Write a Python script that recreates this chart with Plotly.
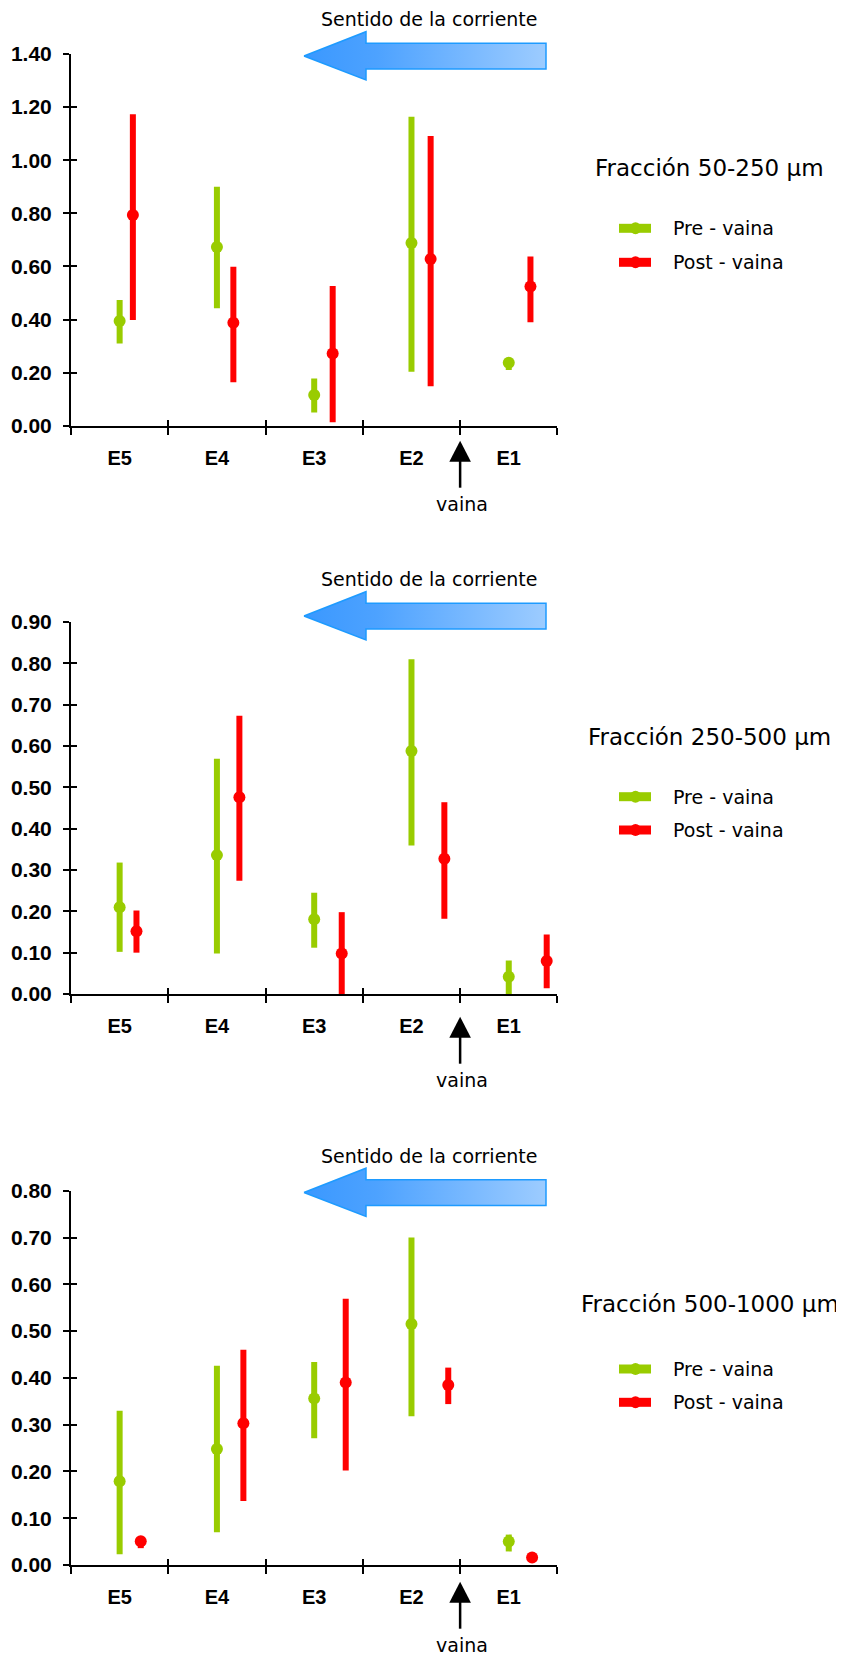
import plotly.graph_objects as go

# ---------------- data ----------------
categories = ["E5", "E4", "E3", "E2", "E1"]
panel_titles = ["Fracción 50-250 µm", "Fracción 250-500 µm", "Fracción 500-1000 µm"]
series_names = ["Pre - vaina", "Post - vaina"]
current_label = "Sentido de la corriente"
vaina_label = "vaina"

# Fracción 50-250 µm
pre_1 = [0.394, 0.673, 0.116, 0.688, 0.237]
pre_1_hi = [0.473, 0.900, 0.178, 1.164, 0.250]
pre_1_lo = [0.310, 0.442, 0.050, 0.203, 0.210]
post_1 = [0.794, 0.388, 0.272, 0.628, 0.524]
post_1_hi = [1.173, 0.599, 0.526, 1.091, 0.637]
post_1_lo = [0.398, 0.164, 0.013, 0.149, 0.390]

# Fracción 250-500 µm
pre_2 = [0.210, 0.336, 0.181, 0.588, 0.042]
pre_2_hi = [0.318, 0.569, 0.245, 0.810, 0.081]
pre_2_lo = [0.102, 0.098, 0.112, 0.359, -0.009]
post_2 = [0.152, 0.476, 0.098, 0.327, 0.080]
post_2_hi = [0.202, 0.673, 0.198, 0.464, 0.144]
post_2_lo = [0.100, 0.274, -0.005, 0.182, 0.014]

# Fracción 500-1000 µm
pre_3 = [0.179, 0.248, 0.356, 0.515, 0.050]
pre_3_hi = [0.330, 0.426, 0.434, 0.700, 0.065]
pre_3_lo = [0.023, 0.070, 0.271, 0.318, 0.029]
post_3 = [0.051, 0.303, 0.390, 0.385, 0.016]
post_3_hi = [0.059, 0.460, 0.569, 0.422, 0.016]
post_3_lo = [0.036, 0.137, 0.202, 0.344, 0.016]

y_max = [1.4, 0.9, 0.8]
y_step = [0.2, 0.1, 0.1]

# ---------------- layout / style ----------------
W, H = 844, 1657
PAGE = 8  # default body margin of the html page
GREEN = "#99CC00"
RED = "#FF0000"
TICK_FONT = dict(family="Liberation Sans, Arial, sans-serif", size=21, color="black", weight="bold")
CAT_FONT = dict(family="Liberation Sans, Arial, sans-serif", size=20, color="black", weight="bold")
TEXT_FONT = "DejaVu Sans, Verdana, sans-serif"

X_LEFT, X_RIGHT = 71.0, 557.4           # screen-pixel extent of the x axes
panel_px = [(54.0, 425.7), (622.0, 994.0), (1190.8, 1565.0)]  # (top, bottom) screen px
post_offset = [
    [0.136, 0.169, 0.190, 0.197, 0.223],
    [0.173, 0.231, 0.283, 0.338, 0.390],
    [0.217, 0.272, 0.324, 0.378, 0.240],
]
current_tip_y = [56.0, 616.0, 1192.5]
vaina_tip_y = [440.7, 1016.7, 1581.7]
legend_title_y = [167.5, 736.7, 1304.2]
legend_title_x = [709.0, 709.0, 710.0]
legend_item_y = [(228.3, 262.3), (796.7, 830.0), (1369.0, 1402.3)]

series = [
    (pre_1, pre_1_hi, pre_1_lo, post_1, post_1_hi, post_1_lo),
    (pre_2, pre_2_hi, pre_2_lo, post_2, post_2_hi, post_2_lo),
    (pre_3, pre_3_hi, pre_3_lo, post_3, post_3_hi, post_3_lo),
]


def px_x(v):
    return (v - PAGE) / W


def px_y(v):
    return 1 - (v - PAGE) / H


fig = go.Figure()
layout = dict(
    width=W, height=H, margin=dict(l=0, r=0, t=0, b=0, pad=0, autoexpand=False),
    paper_bgcolor="white", plot_bgcolor="rgba(0,0,0,0)", showlegend=False,
)

xdom = [px_x(X_LEFT), px_x(X_RIGHT)]
boundaries = [i - 0.5 for i in range(len(categories) + 1)]
centers = list(range(len(categories)))

for k in range(3):
    pre, pre_hi, pre_lo, post, post_hi, post_lo = series[k]
    top, bottom = panel_px[k]
    ydom = [px_y(bottom), px_y(top)]
    n = k + 1
    xs = "" if n == 1 else str(n)
    ov = str(n + 4)
    xa, ya = "x" + xs, "y" + xs

    yticks = [round(i * y_step[k], 2) for i in range(int(round(y_max[k] / y_step[k])) + 1)]

    fig.add_trace(go.Scatter(
        x=centers, y=pre, mode="markers", xaxis=xa, yaxis=ya, cliponaxis=False,
        marker=dict(color=GREEN, size=12),
        error_y=dict(type="data", symmetric=False,
                     array=[h - v for h, v in zip(pre_hi, pre)],
                     arrayminus=[v - l for v, l in zip(pre, pre_lo)],
                     color=GREEN, thickness=6, width=0),
        name=series_names[0]))
    fig.add_trace(go.Scatter(
        x=[c + o for c, o in zip(centers, post_offset[k])], y=post, mode="markers",
        xaxis=xa, yaxis=ya, cliponaxis=False,
        marker=dict(color=RED, size=12),
        error_y=dict(type="data", symmetric=False,
                     array=[h - v for h, v in zip(post_hi, post)],
                     arrayminus=[v - l for v, l in zip(post, post_lo)],
                     color=RED, thickness=6, width=0),
        name=series_names[1]))
    # dummy trace for overlay axes (inside ticks)
    fig.add_trace(go.Scatter(x=[None], y=[None], xaxis="x" + ov, yaxis="y" + ov,
                             hoverinfo="skip", showlegend=False))

    layout["xaxis" + xs] = dict(
        domain=xdom, anchor=ya, range=[-0.5, len(categories) - 0.5], automargin=False,
        tickmode="array", tickvals=centers, ticktext=categories, ticks="",
        tickfont=CAT_FONT, ticklabelstandoff=13,
        showline=True, linecolor="black", linewidth=2,
        showgrid=False, zeroline=False,
        minor=dict(tickmode="array", tickvals=boundaries, ticks="outside",
                   ticklen=7, tickwidth=2, tickcolor="black", showgrid=False),
    )
    layout["yaxis" + xs] = dict(
        domain=ydom, anchor=xa, range=[0, y_max[k]], automargin=False,
        tickmode="array", tickvals=yticks, tickformat=".2f",
        ticks="outside", ticklen=6, tickwidth=2, tickcolor="black",
        tickfont=TICK_FONT, ticklabelstandoff=7,
        showline=True, linecolor="black", linewidth=2,
        showgrid=False, zeroline=False,
    )
    layout["xaxis" + ov] = dict(
        overlaying=xa, anchor="y" + ov, range=[-0.5, len(categories) - 0.5], automargin=False,
        tickmode="array", tickvals=boundaries, ticks="inside", ticklen=6,
        tickwidth=2, tickcolor="black", showticklabels=False,
        showline=False, showgrid=False, zeroline=False,
    )
    layout["yaxis" + ov] = dict(
        overlaying=ya, anchor="x" + ov, range=[0, y_max[k]], automargin=False,
        tickmode="array", tickvals=yticks, ticks="inside", ticklen=6,
        tickwidth=2, tickcolor="black", showticklabels=False,
        showline=False, showgrid=False, zeroline=False,
    )

# screen-pixel axes for decorations
layout["xaxis4"] = dict(domain=[0, 1], anchor="y4", range=[PAGE, W + PAGE], visible=False,
                        fixedrange=True, automargin=False)
layout["yaxis4"] = dict(domain=[0, 1], anchor="x4", range=[H + PAGE, PAGE], visible=False,
                        fixedrange=True, automargin=False)

shapes = []
annotations = []
vaina_x = X_LEFT + (3.5 + 0.5) * (X_RIGHT - X_LEFT) / len(categories)

for k in range(3):
    ty = current_tip_y[k]
    # current-direction arrow (gradient fill)
    ax = [304.0, 366.0, 366.0, 546.0, 546.0, 366.0, 366.0, 304.0]
    ay = [ty, ty - 24.3, ty - 12.7, ty - 12.7, ty + 13.0, ty + 13.0, ty + 24.0, ty]
    fig.add_trace(go.Scatter(
        x=ax, y=ay, xaxis="x4", yaxis="y4", mode="lines", fill="toself",
        line=dict(color="#1E9BFF", width=1.5),
        fillgradient=dict(type="horizontal",
                          colorscale=[[0, "#3A98FF"], [0.3, "#4DA2FF"], [1, "#9DCCFF"]]),
        hoverinfo="skip", showlegend=False))
    annotations.append(dict(x=429.2, y=ty - 37, xref="x4", yref="y4", text=current_label,
                            showarrow=False, xanchor="center", yanchor="middle",
                            font=dict(family=TEXT_FONT, size=19, color="black")))
    # vaina arrow
    vy = vaina_tip_y[k]
    shapes.append(dict(type="path", xref="x4", yref="y4",
                       path=f"M {vaina_x},{vy} L {vaina_x - 10.8},{vy + 21} L {vaina_x + 10.8},{vy + 21} Z",
                       fillcolor="black", line=dict(width=0)))
    shapes.append(dict(type="line", xref="x4", yref="y4", x0=vaina_x, x1=vaina_x,
                       y0=vy + 20, y1=vy + 47, line=dict(color="black", width=2.5)))
    annotations.append(dict(x=vaina_x + 2, y=vy + 63.5, xref="x4", yref="y4", text=vaina_label,
                            showarrow=False, xanchor="center", yanchor="middle",
                            font=dict(family=TEXT_FONT, size=19, color="black")))
    # legend
    annotations.append(dict(x=legend_title_x[k], y=legend_title_y[k], xref="x4", yref="y4",
                            text=panel_titles[k],
                            showarrow=False, xanchor="center", yanchor="middle",
                            font=dict(family=TEXT_FONT, size=23, color="black")))
    for j, col in enumerate([GREEN, RED]):
        ly = legend_item_y[k][j]
        shapes.append(dict(type="line", xref="x4", yref="y4", x0=619, x1=651, y0=ly, y1=ly,
                           line=dict(color=col, width=9)))
        shapes.append(dict(type="circle", xref="x4", yref="y4", x0=630, x1=641,
                           y0=ly - 6, y1=ly + 6, fillcolor=col, line=dict(width=0)))
        annotations.append(dict(x=671, y=ly, xref="x4", yref="y4", text=series_names[j],
                                showarrow=False, xanchor="left", yanchor="middle",
                                font=dict(family=TEXT_FONT, size=19, color="black")))

layout["shapes"] = shapes
layout["annotations"] = annotations
fig.update_layout(**layout)
fig.write_html("out.html")
